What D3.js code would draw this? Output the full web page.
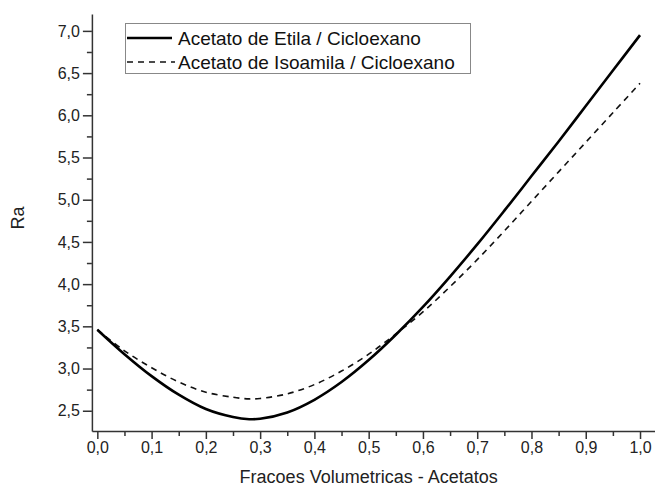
<!DOCTYPE html>
<html>
<head>
<meta charset="utf-8">
<script src="https://cdn.jsdelivr.net/npm/d3@7"></script>
<style>
  body { margin: 0; background: #fff; }
  text { font-family: "Liberation Sans", Arial, sans-serif; }
</style>
</head>
<body>
<div id="chart"></div>
<script>
// Fracoes volumetricas (eixo x)
const fracoes = [0, 0.05, 0.1, 0.15, 0.2, 0.25, 0.28, 0.3, 0.35, 0.4, 0.45, 0.5,
  0.55, 0.6, 0.65, 0.7, 0.75, 0.8, 0.85, 0.9, 0.95, 1.0];
// Ra - Acetato de Etila / Cicloexano
const raEtila = [3.46, 3.17, 2.91, 2.69, 2.52, 2.425, 2.40, 2.405, 2.48, 2.63, 2.84, 3.10,
  3.40, 3.73, 4.09, 4.47, 4.87, 5.28, 5.69, 6.11, 6.53, 6.95];
// Ra - Acetato de Isoamila / Cicloexano
const raIsoamila = [3.46, 3.21, 3.01, 2.84, 2.72, 2.66, 2.64, 2.645, 2.70, 2.81, 2.97, 3.17,
  3.41, 3.67, 3.97, 4.29, 4.63, 4.98, 5.33, 5.68, 6.03, 6.38];
const seriesNames = ['Acetato de Etila / Cicloexano', 'Acetato de Isoamila / Cicloexano'];
const xTicks = [0, 0.1, 0.2, 0.3, 0.4, 0.5, 0.6, 0.7, 0.8, 0.9, 1.0];
const yTicks = [2.5, 3.0, 3.5, 4.0, 4.5, 5.0, 5.5, 6.0, 6.5, 7.0];

const width = 655, height = 491;
const svg = d3.select('#chart').append('svg')
  .attr('width', width).attr('height', height);

// escalas
const x = d3.scaleLinear().domain([-0.01, 1.03]).range([91.9, 656.3]);
const y = d3.scaleLinear().domain([2.26, 7.2]).range([431, 14]);

const fmt = d => d3.format('.1f')(d).replace('.', ',');
const axisColor = '#333';

// ticks menores
const xMinor = d3.range(0.05, 1.0, 0.1);
const yMinor = d3.range(2.75, 7.0, 0.5);
svg.append('g').attr('transform', `translate(0,${y.range()[0]})`)
  .call(d3.axisBottom(x).tickValues(xMinor).tickSize(5).tickFormat(''))
  .call(g => g.select('.domain').remove());
svg.append('g').attr('transform', `translate(${x.range()[0]},0)`)
  .call(d3.axisLeft(y).tickValues(yMinor).tickSize(5).tickFormat(''))
  .call(g => g.select('.domain').remove());

// eixos principais
const gx = svg.append('g').attr('transform', `translate(0,${y.range()[0]})`)
  .call(d3.axisBottom(x).tickValues(xTicks).tickSize(8).tickPadding(3).tickSizeOuter(0).tickFormat(fmt));
const gy = svg.append('g').attr('transform', `translate(${x.range()[0]},0)`)
  .call(d3.axisLeft(y).tickValues(yTicks).tickSize(9).tickPadding(3).tickSizeOuter(0).tickFormat(fmt));

svg.selectAll('.domain, .tick line').attr('stroke', axisColor).attr('stroke-width', 1.5);
svg.selectAll('.tick text').attr('fill', '#222').style('font-size', '16px')
  .style('font-family', '"Liberation Sans", Arial, sans-serif');

// titulos dos eixos
svg.append('text')
  .attr('x', (x(0) + x(1)) / 2).attr('y', 483)
  .attr('text-anchor', 'middle').attr('fill', '#222')
  .style('font-size', '18px')
  .text('Fracoes Volumetricas - Acetatos');
svg.append('text')
  .attr('transform', 'translate(24,218) rotate(-90)')
  .attr('text-anchor', 'middle').attr('fill', '#222')
  .style('font-size', '18px')
  .text('Ra');

// curvas
const line = d3.line().curve(d3.curveCatmullRom.alpha(0.5))
  .x((d, i) => x(fracoes[i])).y(d => y(d));
svg.append('path').datum(raIsoamila)
  .attr('d', line).attr('fill', 'none')
  .attr('stroke', '#111').attr('stroke-width', 1.6)
  .attr('stroke-dasharray', '6,5');
svg.append('path').datum(raEtila)
  .attr('d', line).attr('fill', 'none')
  .attr('stroke', '#000').attr('stroke-width', 2.6);

// legenda
const leg = svg.append('g');
leg.append('rect')
  .attr('x', 125.5).attr('y', 23.5).attr('width', 345).attr('height', 50)
  .attr('fill', '#fff').attr('stroke', '#888').attr('stroke-width', 1);
leg.append('line').attr('x1', 127).attr('x2', 172).attr('y1', 38).attr('y2', 38)
  .attr('stroke', '#000').attr('stroke-width', 2.6);
leg.append('line').attr('x1', 127).attr('x2', 175).attr('y1', 62).attr('y2', 62)
  .attr('stroke', '#111').attr('stroke-width', 1.6).attr('stroke-dasharray', '6,5');
leg.selectAll('text.leg').data(seriesNames).enter().append('text')
  .attr('class', 'leg')
  .attr('x', 178).attr('y', (d, i) => 44.5 + i * 24)
  .attr('fill', '#111').style('font-size', '19px')
  .text(d => d);
</script>
</body>
</html>
